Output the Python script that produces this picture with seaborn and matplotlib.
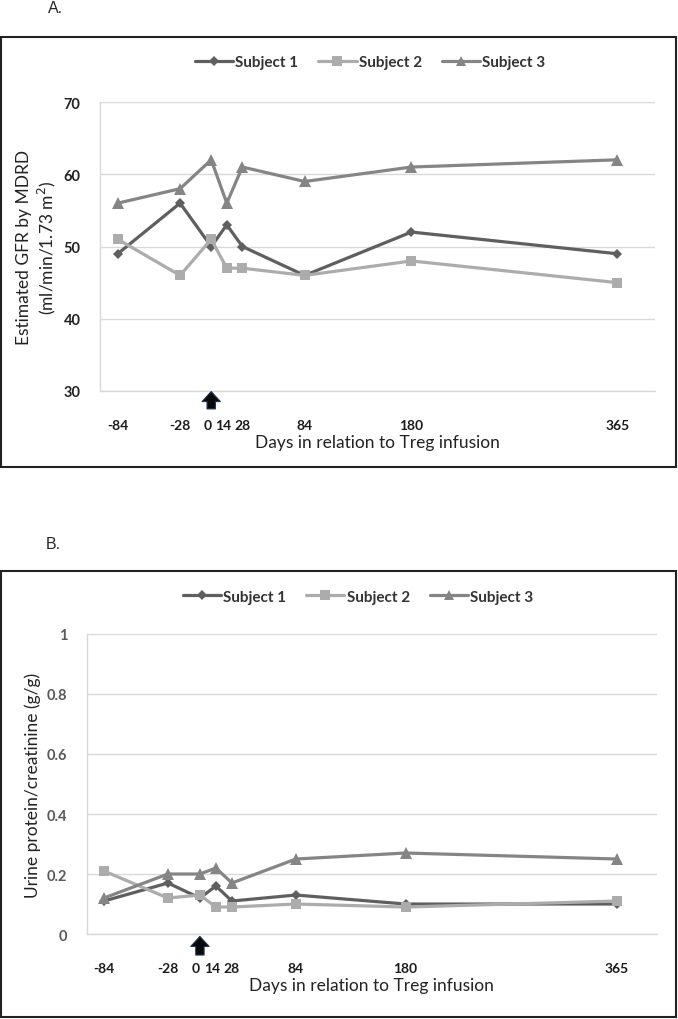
import matplotlib
matplotlib.use("Agg")
import matplotlib.pyplot as plt
from matplotlib.patches import Rectangle
from matplotlib.transforms import ScaledTranslation
import seaborn as sns
import pandas as pd

# data
days = [-84, -28, 0, 14, 28, 84, 180, 365]
subjects = ["Subject 1", "Subject 2", "Subject 3"]
gfr_s1 = [49, 56, 50, 53, 50, 46, 52, 49]
gfr_s2 = [51, 46, 51, 47, 47, 46, 48, 45]
gfr_s3 = [56, 58, 62, 56, 61, 59, 61, 62]
upc_s1 = [0.11, 0.17, 0.12, 0.16, 0.11, 0.13, 0.10, 0.10]
upc_s2 = [0.21, 0.12, 0.13, 0.09, 0.09, 0.10, 0.09, 0.11]
upc_s3 = [0.12, 0.20, 0.20, 0.22, 0.17, 0.25, 0.27, 0.25]

palette = {"Subject 1": "#5f5f5f", "Subject 2": "#acacac", "Subject 3": "#858585"}
markers = {"Subject 1": "D", "Subject 2": "s", "Subject 3": "^"}
msizes = {"D": 5.5, "s": 7.5, "^": 8}
# the crowded labels 0/14/28 sit a little left of their ticks in the original
label_nudge = {0: -4, 14: -4, 28: 0}


def long_frame(s1, s2, s3):
    rows = []
    for name, vals in zip(subjects, [s1, s2, s3]):
        for d, v in zip(days, vals):
            rows.append({"day": d, "value": v, "subject": name})
    return pd.DataFrame(rows)


sns.set_theme(style="white")
plt.rcParams["font.family"] = ["Lato", "DejaVu Sans"]

fig = plt.figure(figsize=(6.78, 10.2), dpi=100)

# outer boxes
for y0, h in [(0.541, 0.422), (0.002, 0.437)]:
    fig.add_artist(Rectangle((0.002, y0), 0.995, h, transform=fig.transFigure,
                             fill=False, edgecolor="#222222", linewidth=1.5))

fig.text(0.071, 0.999, "A.", fontsize=11.5, family="Liberation Sans", va="top")
fig.text(0.068, 0.474, "B.", fontsize=11.5, family="Liberation Sans", va="top")

panels = [
    dict(rect=[0.1475, 0.6157, 0.8185, 0.2833], s=(gfr_s1, gfr_s2, gfr_s3),
         ylim=(30, 70), yticks=[30, 40, 50, 60, 70], ytl=["30", "40", "50", "60", "70"],
         ylabel="Estimated GFR by MDRD\n(ml/min/1.73 m$^2$)", ycol="#222222",
         leg=(0.546, 0.938), xlim=(-100, 399), arrow=(-0.002, -0.062)),
    dict(rect=[0.128, 0.0833, 0.841, 0.2942], s=(upc_s1, upc_s2, upc_s3),
         ylim=(0, 1), yticks=[0, 0.2, 0.4, 0.6, 0.8, 1.0],
         ytl=["0", "0.2", "0.4", "0.6", "0.8", "1"],
         ylabel="Urine protein/creatinine (g/g)", ycol="#595959",
         leg=(0.528, 0.414), xlim=(-99, 400), arrow=(-0.008, -0.07)),
]

for p in panels:
    ax = fig.add_axes(p["rect"])
    df = long_frame(*p["s"])
    sns.lineplot(data=df, x="day", y="value", hue="subject", style="subject",
                 palette=palette, markers=markers, dashes=False, linewidth=2.3,
                 markersize=8, markeredgewidth=0, ax=ax)
    for ln in ax.lines:
        m = ln.get_marker()
        if m in msizes:
            ln.set_markersize(msizes[m])
    ax.set_xlim(*p["xlim"])
    ax.set_ylim(*p["ylim"])
    ax.tick_params(axis="x", length=0, pad=20)
    ax.tick_params(axis="y", length=0, pad=14)
    ax.set_xticks(days)
    ax.set_xticklabels([str(d) for d in days], fontweight="bold", fontsize=10,
                       color="#1a1a1a")
    ax.set_yticks(p["yticks"])
    ax.set_yticklabels(p["ytl"], fontweight="bold", fontsize=10.5, color=p["ycol"])
    ax.grid(axis="y", color="#d9d9d9", linewidth=1)
    for side in ["top", "right"]:
        ax.spines[side].set_visible(False)
    for side in ["left", "bottom"]:
        ax.spines[side].set_color("#d9d9d9")
        ax.spines[side].set_linewidth(1)
    ax.set_xlabel("Days in relation to Treg infusion", fontsize=12.5, color="#222222",
                  labelpad=2)
    ax.set_ylabel(p["ylabel"], fontsize=12.5, color="#222222", labelpad=4)
    ax.annotate("", xy=(0, p["arrow"][0]), xytext=(0, p["arrow"][1]),
                xycoords=("data", "axes fraction"), textcoords=("data", "axes fraction"),
                arrowprops=dict(arrowstyle="simple,head_width=1.1,head_length=0.6,tail_width=0.5",
                                facecolor="#0a0a0a", edgecolor="#1f3550", linewidth=0.8,
                                shrinkA=0, shrinkB=0, mutation_scale=12),
                annotation_clip=False)
    handles, labels = ax.get_legend_handles_labels()
    for h in handles:
        m = h.get_marker()
        if m in msizes:
            h.set_markersize(msizes[m] * 0.9)
    ax.legend_.remove()
    fig.legend(handles, labels, loc="center", bbox_to_anchor=p["leg"], ncol=3,
               frameon=False, prop={"weight": "bold", "size": 11}, handlelength=2.5,
               handletextpad=0.15, columnspacing=1.3, labelcolor="#333333")
    # nudge the crowded labels once everything that resets tick transforms is done
    for tick, d in zip(ax.xaxis.get_major_ticks(), days):
        if label_nudge.get(d):
            lab = tick.label1
            lab.set_transform(lab.get_transform() +
                              ScaledTranslation(label_nudge[d] / 100, 0, fig.dpi_scale_trans))

fig.savefig("out.png", dpi=100)
